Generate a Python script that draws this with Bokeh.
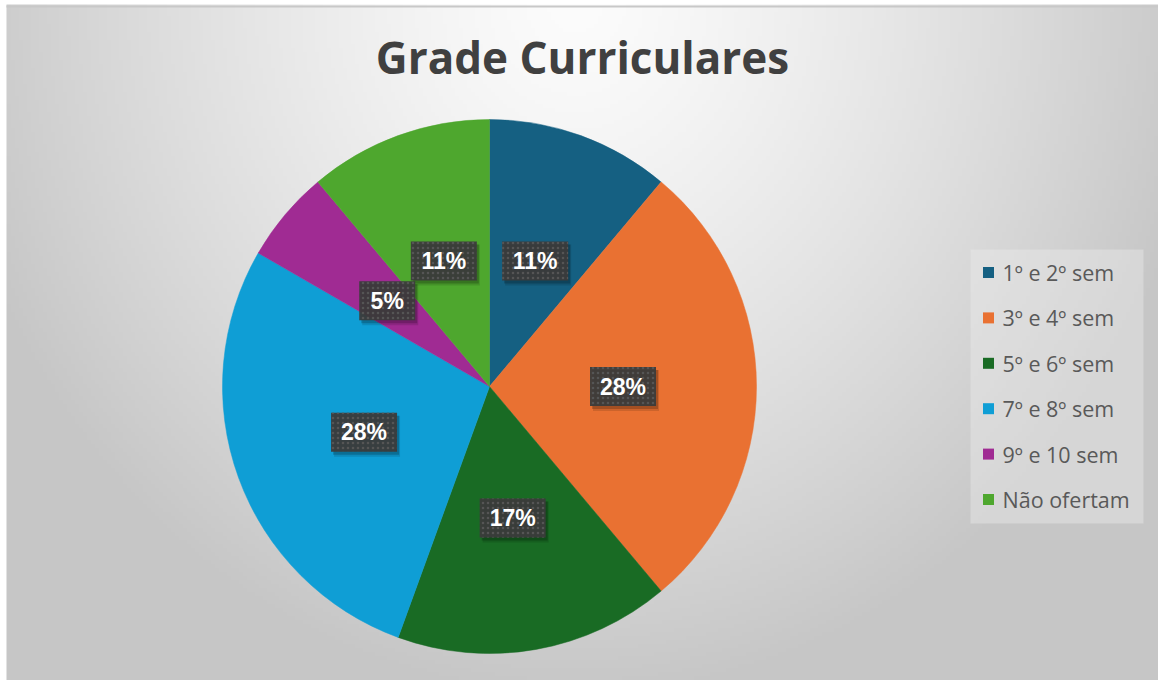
import numpy as np
from bokeh.plotting import figure
from bokeh.models import Range1d, ColumnDataSource
from bokeh.core.properties import value
from bokeh.embed import file_html
from bokeh.resources import INLINE

# ---- data ----
title_text = "Grade Curriculares"
categories = ["1º e 2º  sem", "3º e 4º sem", "5º e 6º sem", "7º e 8º sem", "9º e 10 sem", "Não ofertam"]
counts = [2, 5, 3, 5, 1, 2]
pct_labels = ["11%", "28%", "17%", "28%", "5%", "11%"]
colors = ["#156082", "#E97132", "#196B24", "#0F9ED5", "#A02B93", "#4EA72E"]

W, H = 1158, 680
PAGE_H = 680  # data y = PAGE_H - page_y, data x = page_x

p = figure(width=W, height=H, output_backend="svg", toolbar_location=None,
           x_range=Range1d(0, W), y_range=Range1d(0, H),
           x_axis_location=None, y_axis_location=None, min_border=0,
           background_fill_color="white", border_fill_color="white")
p.grid.visible = False
p.outline_line_color = None

# ---- radial gradient background (chart area starts at page x=6, y=5) ----
X0, Y0 = 6, 5
step = 4
cw, ch = W - X0, H - Y0
nx, ny = cw // step + 1, ch // step + 1
xs = X0 + (np.arange(nx) + 0.5) * step
ys_data = (np.arange(ny) + 0.5) * step
page_y = PAGE_H - ys_data
XX, YY = np.meshgrid(xs, page_y)
t = np.sqrt(((XX - 575) / 640.0) ** 2 + ((YY - 0) / 700.0) ** 2)
t = np.clip(t, 0, 1) ** 1.3
v = (252 - 54 * t).astype(np.uint32)
img = (255 << 24) | (v << 16) | (v << 8) | v
p.image_rgba(image=[img.astype(np.uint32)], x=X0, y=0, dw=nx * step, dh=ny * step)
# thin top edge of the chart area
p.rect(x=[X0 + cw / 2], y=[PAGE_H - Y0 - 1], width=[cw], height=[2],
       fill_color="#c8c8c8", line_color=None)

# ---- pie ----
cx, cy, R = 489, PAGE_H - 386, 267
total = float(sum(counts))
fr = np.array(counts) / total
cum_end = np.cumsum(fr)
cum_start = cum_end - fr
start = np.pi / 2 - 2 * np.pi * cum_start
end = np.pi / 2 - 2 * np.pi * cum_end
src = ColumnDataSource(dict(start=start, end=end, color=colors, cat=categories))
p.wedge(x=cx, y=cy, radius=R, start_angle="start", end_angle="end", direction="clock",
        fill_color="color", line_color="color", line_width=0.5, source=src)

# ---- data labels ----
mid = (start + end) / 2
lr = 0.5 * R
lx = cx + lr * np.cos(mid)
ly = cy + lr * np.sin(mid)
bw = [36 + 10 * len(s) for s in pct_labels]
lsrc = ColumnDataSource(dict(x=lx, y=ly, w=bw, t=pct_labels,
                             xs1=lx + 3, ys1=ly - 4, xs2=lx + 2, ys2=ly - 3))
p.rect(x="xs1", y="ys1", width="w", height=41, width_units="screen", height_units="screen",
       fill_color="black", fill_alpha=0.12, line_color=None, source=lsrc)
p.rect(x="xs2", y="ys2", width="w", height=39, width_units="screen", height_units="screen",
       fill_color="black", fill_alpha=0.2, line_color=None, source=lsrc)
p.rect(x="x", y="y", width="w", height=39, width_units="screen", height_units="screen",
       fill_color="#3b3b3b", fill_alpha=0.95, line_color=None,
       hatch_pattern="dot", hatch_color="#555555", hatch_scale=5, hatch_weight=1.2,
       source=lsrc)
p.text(x="x", y="y", text="t", text_align="center", text_baseline="middle",
       text_color="white", text_font=value("Liberation Sans"), text_font_style="bold",
       text_font_size="23px", source=lsrc)

# ---- title ----
p.text(x=[582], y=[PAGE_H - 56], text=[title_text], text_align="center",
       text_baseline="alphabetic", text_color="#404040", text_font=value("Open Sans"),
       text_font_style="bold", text_font_size="44px")

# ---- legend (drawn) ----
p.rect(x=[1056.5], y=[PAGE_H - 386], width=[173], height=[274],
       fill_color="#eeeeee", fill_alpha=0.4, line_color=None)
n = len(categories)
row_y = [PAGE_H - (272 + i * 45.4) for i in range(n)]
legsrc = ColumnDataSource(dict(x=[988] * n, tx=[1002] * n, y=row_y, c=colors, t=categories))
p.scatter(x="x", y="y", marker="square", size=11, fill_color="c", line_color=None, source=legsrc)
p.text(x="tx", y="y", text="t", text_align="left", text_baseline="middle",
       text_color="#595959", text_font=value("Open Sans"), text_font_size="21.5px", source=legsrc)

open("out.html", "w").write(file_html(p, INLINE))
